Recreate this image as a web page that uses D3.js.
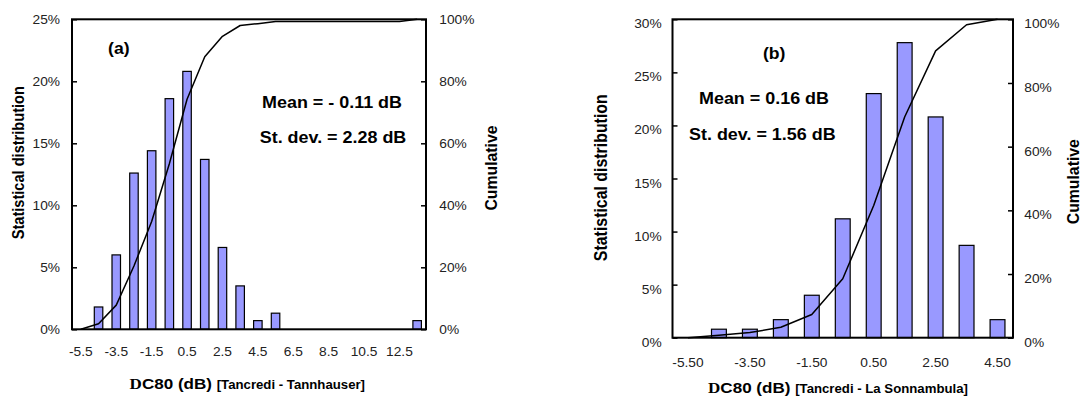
<!DOCTYPE html>
<html><head><meta charset="utf-8">
<script src="https://cdn.jsdelivr.net/npm/d3@7"></script>
<style>
body{margin:0;background:#fff}
svg{display:block}
text{font-family:"Liberation Sans",Arial,sans-serif}
</style>
</head><body>
<svg id="c" width="1083" height="396"></svg>
<script>
// ---------- data ----------
const categoriesA = [-5.5,-4.5,-3.5,-2.5,-1.5,-0.5,0.5,1.5,2.5,3.5,4.5,5.5,6.5,7.5,8.5,9.5,10.5,11.5,12.5,13.5];
const distributionA = [0,1.8,6.0,12.6,14.4,18.6,20.8,13.7,6.6,3.5,0.7,1.3,0,0,0,0,0,0,0,0.7];
const cumulativeA = [0,1.8,7.8,20.4,34.8,53.4,74.2,87.9,94.5,98.0,98.6,99.3,99.3,99.3,99.3,99.3,99.3,99.3,99.3,100];
const leftTicksA = [0,5,10,15,20,25];

const categoriesB = [-5.5,-4.5,-3.5,-2.5,-1.5,-0.5,0.5,1.5,2.5,3.5,4.5];
const distributionB = [0,0.8,0.8,1.7,4.0,11.2,23.0,27.8,20.8,8.7,1.7];
const cumulativeB = [0,0.8,1.6,3.3,7.3,18.5,41.5,69.3,90.1,98.3,100];
const leftTicksB = [0,5,10,15,20,25,30];

const rightTicks = [0,20,40,60,80,100];
const panelLabels = ["(a)","(b)"];
const meanLabels = ["Mean = - 0.11 dB","Mean = 0.16 dB"];
const sdLabels = ["St. dev. = 2.28 dB","St. dev. = 1.56 dB"];
const xTitleSymbol = "D";
const xTitleMain = "C80 (dB) ";
const xTitlePairs = ["[Tancredi - Tannhauser]","[Tancredi - La Sonnambula]"];
const yTitleLeft = "Statistical distribution";
const yTitleRight = "Cumulative";

// ---------- layout ----------
const S = 1.1; // horizontal text stretch
const svg = d3.select("#c");
svg.append("rect").attr("width",1083).attr("height",396).attr("fill","#fff");

function sText(g, x, y, str, size, weight, anchor, rot){
  const t = g.append("text")
    .attr("transform", `translate(${x},${y}) scale(${S},1)` + (rot ? ` rotate(${rot})` : ""))
    .attr("text-anchor", anchor).attr("font-size", size).attr("font-weight", weight)
    .attr("fill", "#000").text(str);
  return t;
}

function panel(p){
  const g = svg.append("g");
  const x = d3.scaleBand().domain(p.cats).range([p.x0, p.x1]).paddingInner(0.52).paddingOuter(0.26);
  const y = d3.scaleLinear().domain([0, p.yMax]).range([p.y1, p.y0]);
  const y2 = d3.scaleLinear().domain([0, 100]).range([p.y1, p.y0]);

  g.selectAll("rect.bar").data(p.dist.map((v,i)=>({c:p.cats[i], v}))).join("rect")
    .attr("class","bar")
    .attr("x", d=>x(d.c)).attr("width", x.bandwidth())
    .attr("y", d=>y(d.v)).attr("height", d=>y(0)-y(d.v))
    .attr("fill","#9999ff").attr("stroke","#000").attr("stroke-width",1.2);

  const line = d3.line().x((d,i)=>x(p.cats[i]) + x.bandwidth()/2).y(d=>y2(d));
  g.append("path").datum(p.cum).attr("d", line)
    .attr("fill","none").attr("stroke","#000").attr("stroke-width",1.5).attr("stroke-linejoin","round");

  g.append("rect").attr("x",p.x0).attr("y",p.y0).attr("width",p.x1-p.x0).attr("height",p.y1-p.y0)
    .attr("fill","none").attr("stroke","#000").attr("stroke-width",2);

  const styleAxis = (ax)=>{
    ax.attr("font-size",12.5).attr("font-family",'"Liberation Sans",Arial,sans-serif');
    ax.select(".domain").remove();
    ax.selectAll(".tick line").attr("stroke","#000").attr("stroke-width",1.5);
    ax.selectAll(".tick text").attr("fill","#222");
  };

  const la = g.append("g").attr("transform",`translate(${p.x0},0)`)
    .call(d3.axisLeft(y).tickValues(p.leftTicks).tickFormat(d=>d+"%").tickSizeInner(-5).tickSizeOuter(0));
  styleAxis(la);
  la.selectAll(".tick text").attr("x",0).attr("dy",p.yDy)
    .attr("transform",`translate(${-p.leftPad},0) scale(${S},1)`);

  const ra = g.append("g").attr("transform",`translate(${p.x1},0)`)
    .call(d3.axisRight(y2).tickValues(rightTicks).tickFormat(d=>d+"%").tickSizeInner(-5).tickSizeOuter(0));
  styleAxis(ra);
  ra.selectAll(".tick text").attr("x",0).attr("dy",p.yDy)
    .attr("transform",`translate(${p.rightPad},0) scale(${S},1)`);

  const xa = g.append("g").attr("transform",`translate(0,${p.y1})`)
    .call(d3.axisBottom(x).tickValues(p.cats.filter((d,i)=>i%2===0)).tickFormat(d=>d.toFixed(p.xDec)).tickSize(0));
  styleAxis(xa);
  xa.selectAll(".tick text").attr("y",0).attr("dy","0.71em")
    .attr("transform",`translate(0,${p.xPad}) scale(${S},1)`);

  // titles
  sText(g, p.yTitleX, p.yTitleY, yTitleLeft, p.yTitleSize, "bold", "middle", -90);
  sText(g, p.cumX, p.cumY, yTitleRight, 15.8, "bold", "middle", -90);

  const xt = g.append("text")
    .attr("transform",`translate(${p.xtX},${p.xtY}) scale(${S},1)`)
    .attr("text-anchor","middle").attr("font-weight","bold").attr("fill","#000");
  xt.append("tspan").attr("font-family",'"Liberation Serif","Times New Roman",serif').attr("font-size",15.5).text(xTitleSymbol);
  xt.append("tspan").attr("font-size",15.5).text(xTitleMain);
  xt.append("tspan").attr("font-size",12).text(p.pair);

  sText(g, p.lblX, p.lblY, p.label, 16, "bold", "middle");
  sText(g, p.meanX, p.meanY, p.mean, 16.3, "bold", "middle");
  sText(g, p.sdX, p.sdY, p.sd, 16.3, "bold", "middle");
}

panel({
  cats: categoriesA, dist: distributionA, cum: cumulativeA, leftTicks: leftTicksA, yMax: 25,
  x0: 72, x1: 426, y0: 19.3, y1: 329.3,
  leftPad: 12, rightPad: 13.3, yDy: "0.36em", xPad: 18, xDec: 1,
  yTitleX: 23.5, yTitleY: 162.7, yTitleSize: 14.6,
  cumX: 496.5, cumY: 168,
  xtX: 247.3, xtY: 389, pair: xTitlePairs[0],
  label: panelLabels[0], lblX: 118.8, lblY: 54,
  mean: meanLabels[0], meanX: 332, meanY: 107.5,
  sd: sdLabels[0], sdX: 333, sdY: 143.3
});

panel({
  cats: categoriesB, dist: distributionB, cum: cumulativeB, leftTicks: leftTicksB, yMax: 30,
  x0: 672.5, x1: 1013, y0: 19.3, y1: 337.7,
  leftPad: 10.8, rightPad: 11.3, yDy: "0.68em", xPad: 20.2, xDec: 2,
  yTitleX: 606.5, yTitleY: 177.7, yTitleSize: 15.9,
  cumX: 1079, cumY: 181.7,
  xtX: 838, xtY: 393.3, pair: xTitlePairs[1],
  label: panelLabels[1], lblX: 774.2, lblY: 59,
  mean: meanLabels[1], meanX: 764, meanY: 104,
  sd: sdLabels[1], sdX: 762.3, sdY: 139.5
});
</script>
</body></html>
